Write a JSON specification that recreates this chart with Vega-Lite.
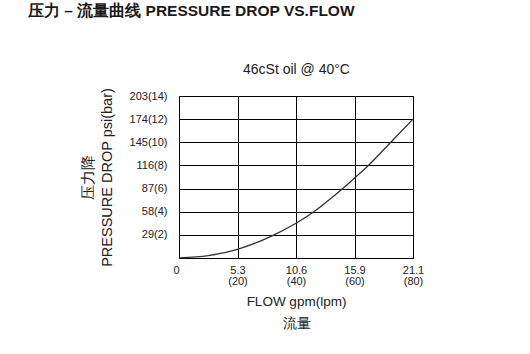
{
  "$schema": "https://vega.github.io/schema/vega-lite/v6.json",
  "autosize": "none",
  "width": 234,
  "height": 162,
  "padding": {"left": 179, "top": 96, "right": 117, "bottom": 96},
  "background": "white",
  "config": {
    "font": "Liberation Sans",
    "view": {"stroke": "black", "strokeWidth": 1},
    "axis": {"labelColor": "#222", "titleColor": "#222", "titleFontWeight": "normal"}
  },
  "title": {
    "text": "压力 – 流量曲线 PRESSURE DROP VS.FLOW",
    "anchor": "start",
    "frame": "group",
    "dx": -151,
    "offset": 43,
    "fontSize": 15.5,
    "fontWeight": "bold",
    "color": "#1a1a1a",
    "font": "Liberation Sans"
  },
  "data": {
    "values": [
      {"flow_lpm": 0, "pressure_bar": 0},
      {"flow_lpm": 10, "pressure_bar": 0.2},
      {"flow_lpm": 20, "pressure_bar": 0.75},
      {"flow_lpm": 32, "pressure_bar": 1.94},
      {"flow_lpm": 40, "pressure_bar": 3.0},
      {"flow_lpm": 45, "pressure_bar": 3.8},
      {"flow_lpm": 50, "pressure_bar": 4.75},
      {"flow_lpm": 56, "pressure_bar": 6.0},
      {"flow_lpm": 60, "pressure_bar": 6.9},
      {"flow_lpm": 64.75, "pressure_bar": 8.0},
      {"flow_lpm": 72.4, "pressure_bar": 10.0},
      {"flow_lpm": 80, "pressure_bar": 12.0}
    ]
  },
  "layer": [
    {
      "mark": {"type": "line", "color": "#333", "strokeWidth": 1.3, "interpolate": "monotone"},
      "encoding": {
        "x": {
          "field": "flow_lpm", "type": "quantitative",
          "scale": {"domain": [0, 80], "nice": false},
          "axis": {
            "orient": "bottom",
            "values": [0, 20, 40, 60, 80],
            "labelExpr": "datum.value == 0 ? '0' : [format(datum.value / 3.785, '.1f'), '(' + datum.value + ')']",
            "labelAlign": {"condition": {"test": "datum.value == 0", "value": "right"}, "value": "center"},
            "grid": true, "gridColor": "black", "gridOpacity": 1, "gridWidth": 1,
            "ticks": false, "domain": true, "domainColor": "black",
            "labelFontSize": 11, "labelPadding": 6, "labelLineHeight": 11,
            "title": ["FLOW gpm(lpm)", "流量"],
            "titleFontSize": 13.5, "titleLineHeight": 22, "titlePadding": 8
          }
        },
        "y": {
          "field": "pressure_bar", "type": "quantitative",
          "scale": {"domain": [0, 14], "nice": false},
          "axis": {
            "values": [2, 4, 6, 8, 10, 12, 14],
            "labelExpr": "format(datum.value * 14.5, 'd') + '(' + datum.value + ')'",
            "grid": true, "gridColor": "black", "gridOpacity": 1, "gridWidth": 1,
            "ticks": false, "domain": true, "domainColor": "black",
            "labelFontSize": 11, "labelPadding": 12,
            "title": ["压力降", "PRESSURE DROP psi(bar)"],
            "titleFontSize": 14.5, "titleLineHeight": 19, "titlePadding": 15
          }
        }
      }
    },
    {
      "mark": {"type": "point", "opacity": 0},
      "encoding": {
        "x": {
          "field": "flow_lpm", "type": "quantitative",
          "scale": {"domain": [0, 80], "nice": false},
          "axis": {
            "orient": "top", "labels": false, "ticks": false, "domain": false, "grid": false,
            "title": "46cSt oil @ 40°C", "titleFontSize": 14, "titlePadding": 20
          }
        }
      }
    }
  ],
  "resolve": {"axis": {"x": "independent"}}
}
